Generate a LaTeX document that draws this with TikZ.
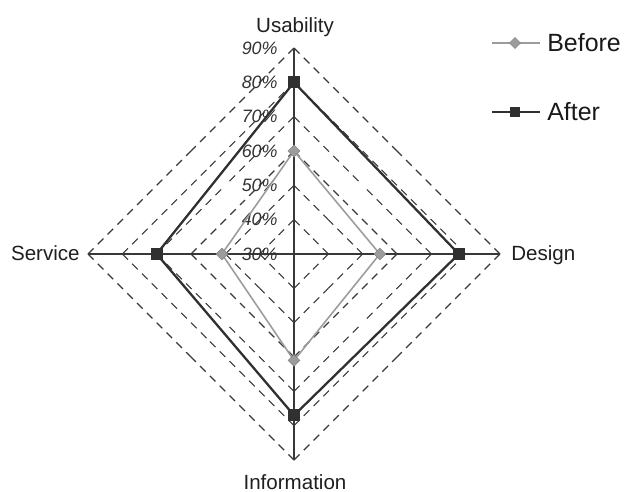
\documentclass[tikz,border=0pt]{standalone}
\usepackage{fontspec}
\setmainfont{Liberation Sans}
\usetikzlibrary{shapes.geometric}
\definecolor{beforegray}{HTML}{9C9C9C}
\definecolor{aftergray}{HTML}{303030}
\definecolor{gridgray}{HTML}{383838}
\begin{document}
\begin{tikzpicture}
      [x=0.02cm, y=0.02cm,
       declare function={rr(\v)=(\v-30)*206/60;},
       axis/.style={draw=gridgray, line width=0.6pt},
       grid/.style={draw=gridgray, line width=0.65pt, dash pattern=on 4.5pt off 3.4pt},
       label/.style={font=\fontsize{11.7}{14}\selectfont, text=black!88, inner sep=0},
       pct/.style={font=\fontsize{10.2}{12}\selectfont\itshape, text=black!80, anchor=east, inner sep=0},
       legend/.style={font=\fontsize{14.2}{17}\selectfont, text=black!90, anchor=west, inner sep=0},
       before/.style={draw=beforegray, line width=0.9pt},
       after/.style={draw=aftergray, line width=1.3pt},
       beforemark/.style={diamond, fill=beforegray, draw=beforegray!85!black, line width=0.3pt, inner sep=0, minimum size=0.24cm},
       aftermark/.style={rectangle, fill=aftergray, inner sep=0, minimum size=0.24cm}]
      \useasboundingbox (-294,-237) rectangle (331,254);
      \coordinate (o) at (0,0);
      % dashed levels 40%..90%, each half side starts at a corner
      \foreach \v in {40,50,...,90}
         \foreach \a in {0,90,180,270} {
           \draw [grid] (\a:{rr(\v)}) -- ({\a+45}:{rr(\v)*0.70711});
           \draw [grid] (\a:{rr(\v)}) -- ({\a-45}:{rr(\v)*0.70711});
         }
      % axes
      \foreach \a/\n in {90/usab,0/des,270/info,180/serv} {
         \coordinate (\n-tip) at (\a:206);
         \draw [axis] (o) -- (\n-tip);
      }
      \foreach \v in {30,40,...,90}
         \node [pct] at (-16,{rr(\v)}) {\v\%};
      \node at (1,222) (usab) [label, anchor=base] {Usability};
      \node at (217,-6) (des) [label, anchor=base west] {Design};
      \node at (1,-235) (info) [label, anchor=base] {Information};
      \node at (-214,-6) (serv) [label, anchor=base east] {Service};
      % before
      \coordinate (usab-b) at (90:{rr(60)});
      \coordinate (des-b) at (0:{rr(55)});
      \coordinate (info-b) at (270:{rr(61)});
      \coordinate (serv-b) at (180:{rr(51)});
      \draw [before] (usab-b) -- (des-b) -- (info-b) -- (serv-b) -- cycle;
      % after
      \coordinate (usab-a) at (90:{rr(80)});
      \coordinate (des-a) at (0:{rr(78)});
      \coordinate (info-a) at (270:{rr(77)});
      \coordinate (serv-a) at (180:{rr(70)});
      \draw [after] (usab-a) -- (des-a) -- (info-a) -- (serv-a) -- cycle;
      \foreach \n in {usab,des,info,serv} {
         \node at (\n-b) [beforemark] {};
         \node at (\n-a) [aftermark] {};
      }
      % legend
      \coordinate (lb-l) at (198,211);
      \coordinate (lb-r) at (246,211);
      \coordinate (la-l) at (198,142);
      \coordinate (la-r) at (246,142);
      \draw [before, line width=0.7pt] (lb-l) -- (lb-r);
      \draw [after, line width=1pt] (la-l) -- (la-r);
      \node at (221,211) (lb-mark) [beforemark, minimum size=0.22cm] {};
      \node at (221,142) (la-mark) [aftermark, minimum size=0.2cm] {};
      \node at (253,211) (lb-text) [legend] {Before};
      \node at (253,142) (la-text) [legend] {After};
\end{tikzpicture}
\end{document}
